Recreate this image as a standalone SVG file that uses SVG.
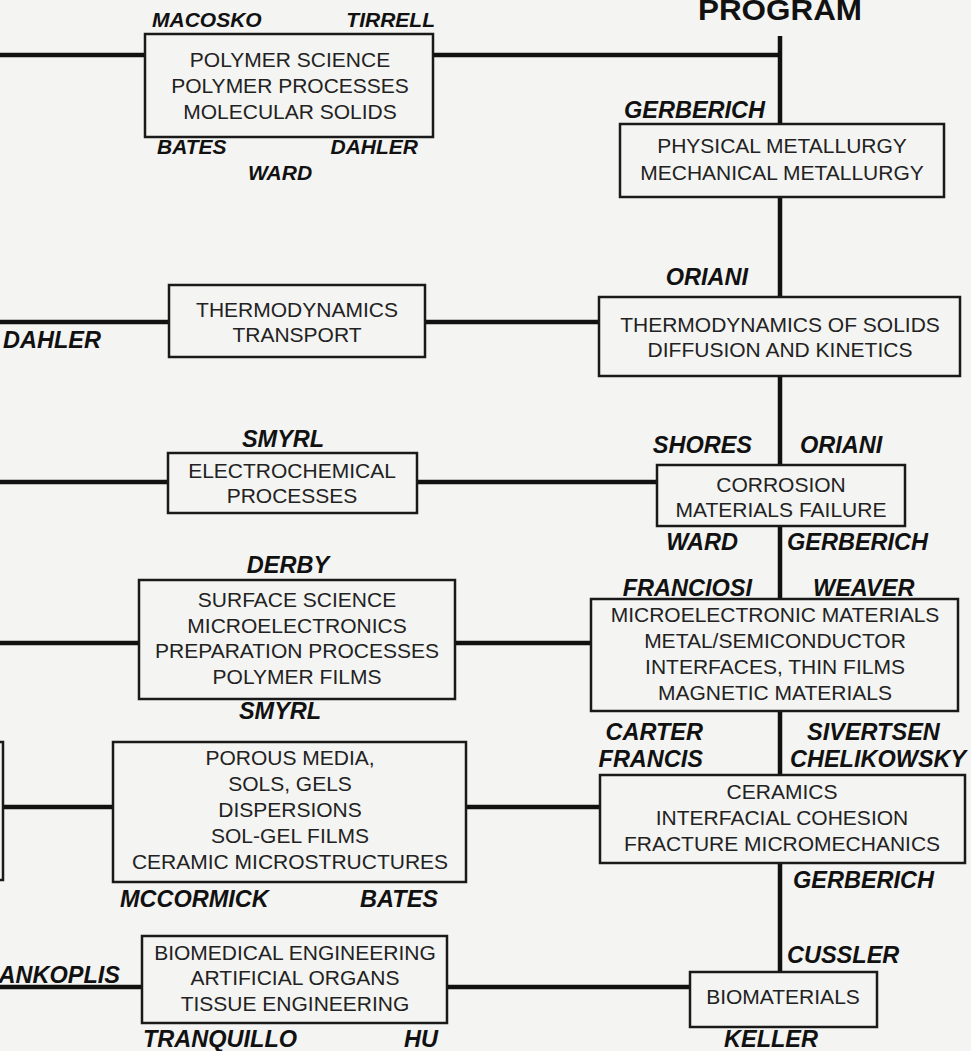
<svg xmlns="http://www.w3.org/2000/svg" width="971" height="1051" viewBox="0 0 971 1051">
<style>
.bg{fill:#f4f4f2}
.box{fill:#f4f4f2;stroke:#1a1a1a;stroke-width:2.5}
.ln{stroke:#111;stroke-width:4.5;fill:none}
.t{font-family:"Liberation Sans",Arial,sans-serif;font-size:21px;fill:#222;text-anchor:middle}
.n{font-family:"Liberation Sans",Arial,sans-serif;font-size:23.5px;font-weight:bold;font-style:italic;fill:#111}
.s{font-size:21px}
.m{text-anchor:middle}
.e{text-anchor:end}
.ttl{font-family:"Liberation Sans",Arial,sans-serif;font-size:30px;font-weight:bold;fill:#111;text-anchor:middle}
</style>
<rect class="bg" x="0" y="0" width="971" height="1051"/>
<text class="ttl" x="780" y="20" textLength="164" lengthAdjust="spacingAndGlyphs">PROGRAM</text>
<g id="connectors">
<line class="ln" x1="780" y1="36" x2="780" y2="972"/>
<line class="ln" x1="0" y1="55" x2="145" y2="55"/>
<line class="ln" x1="433" y1="55" x2="782" y2="55"/>
<line class="ln" x1="0" y1="322" x2="169" y2="322"/>
<line class="ln" x1="425" y1="322" x2="599" y2="322"/>
<line class="ln" x1="0" y1="482" x2="168" y2="482"/>
<line class="ln" x1="417" y1="482" x2="657" y2="482"/>
<line class="ln" x1="0" y1="643" x2="139" y2="643"/>
<line class="ln" x1="455" y1="643" x2="591" y2="643"/>
<line class="ln" x1="3" y1="807" x2="113" y2="807"/>
<line class="ln" x1="466" y1="807" x2="600" y2="807"/>
<line class="ln" x1="0" y1="987" x2="142" y2="987"/>
<line class="ln" x1="447" y1="987" x2="690" y2="987"/>
</g>
<g id="left-partial">
<rect class="box" x="-20" y="742" width="23" height="138"/>
</g>
<g id="polymer">
<rect class="box" x="145" y="34" width="288" height="103"/>
<text class="t" x="290" y="67">POLYMER SCIENCE</text>
<text class="t" x="290" y="93">POLYMER PROCESSES</text>
<text class="t" x="290" y="119">MOLECULAR SOLIDS</text>
<text class="n s" x="152" y="27">MACOSKO</text>
<text class="n s e" x="435" y="27">TIRRELL</text>
<text class="n s" x="157" y="154">BATES</text>
<text class="n s e" x="418" y="154">DAHLER</text>
<text class="n s m" x="280" y="180">WARD</text>
</g>
<g id="metallurgy">
<rect class="box" x="620" y="124" width="324" height="73"/>
<text class="t" x="782" y="153">PHYSICAL METALLURGY</text>
<text class="t" x="782" y="180">MECHANICAL METALLURGY</text>
<text class="n e" x="765" y="118">GERBERICH</text>
</g>
<g id="thermo">
<rect class="box" x="169" y="285" width="256" height="72"/>
<text class="t" x="297" y="317">THERMODYNAMICS</text>
<text class="t" x="297" y="342">TRANSPORT</text>
<text class="n" x="3" y="348">DAHLER</text>
</g>
<g id="thermo-solids">
<rect class="box" x="599" y="297" width="361" height="79"/>
<text class="t" x="780" y="332">THERMODYNAMICS OF SOLIDS</text>
<text class="t" x="780" y="357">DIFFUSION AND KINETICS</text>
<text class="n e" x="748" y="285">ORIANI</text>
</g>
<g id="electrochem">
<rect class="box" x="168" y="453" width="249" height="60"/>
<text class="t" x="292" y="478">ELECTROCHEMICAL</text>
<text class="t" x="292" y="503">PROCESSES</text>
<text class="n m" x="283" y="447">SMYRL</text>
</g>
<g id="corrosion">
<rect class="box" x="657" y="465" width="248" height="61"/>
<text class="t" x="781" y="492">CORROSION</text>
<text class="t" x="781" y="517">MATERIALS FAILURE</text>
<text class="n e" x="752" y="453">SHORES</text>
<text class="n" x="800" y="453">ORIANI</text>
<text class="n e" x="738" y="550">WARD</text>
<text class="n" x="787" y="550">GERBERICH</text>
</g>
<g id="surface">
<rect class="box" x="139" y="580" width="316" height="119"/>
<text class="t" x="297" y="607">SURFACE SCIENCE</text>
<text class="t" x="297" y="633">MICROELECTRONICS</text>
<text class="t" x="297" y="658">PREPARATION PROCESSES</text>
<text class="t" x="297" y="684">POLYMER FILMS</text>
<text class="n m" x="288" y="573">DERBY</text>
<text class="n m" x="280" y="719">SMYRL</text>
</g>
<g id="microelectronic">
<rect class="box" x="591" y="599" width="367" height="112"/>
<text class="t" x="775" y="622">MICROELECTRONIC MATERIALS</text>
<text class="t" x="775" y="648">METAL/SEMICONDUCTOR</text>
<text class="t" x="775" y="674">INTERFACES, THIN FILMS</text>
<text class="t" x="775" y="700">MAGNETIC MATERIALS</text>
<text class="n e" x="752" y="596">FRANCIOSI</text>
<text class="n" x="813" y="596">WEAVER</text>
</g>
<g id="porous">
<rect class="box" x="113" y="742" width="353" height="140"/>
<text class="t" x="290" y="765">POROUS MEDIA,</text>
<text class="t" x="290" y="791">SOLS, GELS</text>
<text class="t" x="290" y="817">DISPERSIONS</text>
<text class="t" x="290" y="843">SOL-GEL FILMS</text>
<text class="t" x="290" y="869">CERAMIC MICROSTRUCTURES</text>
<text class="n" x="120" y="907">MCCORMICK</text>
<text class="n e" x="438" y="907">BATES</text>
</g>
<g id="ceramics">
<rect class="box" x="600" y="775" width="365" height="88"/>
<text class="t" x="782" y="799">CERAMICS</text>
<text class="t" x="782" y="825">INTERFACIAL COHESION</text>
<text class="t" x="782" y="851">FRACTURE MICROMECHANICS</text>
<text class="n e" x="703" y="740">CARTER</text>
<text class="n e" x="703" y="767">FRANCIS</text>
<text class="n" x="807" y="740">SIVERTSEN</text>
<text class="n" x="790" y="767">CHELIKOWSKY</text>
<text class="n" x="793" y="888">GERBERICH</text>
</g>
<g id="biomedical">
<rect class="box" x="142" y="936" width="305" height="87"/>
<text class="t" x="295" y="960">BIOMEDICAL ENGINEERING</text>
<text class="t" x="295" y="985">ARTIFICIAL ORGANS</text>
<text class="t" x="295" y="1011">TISSUE ENGINEERING</text>
<text class="n e" x="120" y="983">ANKOPLIS</text>
<text class="n" x="143" y="1047">TRANQUILLO</text>
<text class="n e" x="438" y="1047">HU</text>
</g>
<g id="biomaterials">
<rect class="box" x="690" y="972" width="187" height="55"/>
<text class="t" x="783" y="1004">BIOMATERIALS</text>
<text class="n" x="787" y="963">CUSSLER</text>
<text class="n m" x="771" y="1047">KELLER</text>
</g>
</svg>
